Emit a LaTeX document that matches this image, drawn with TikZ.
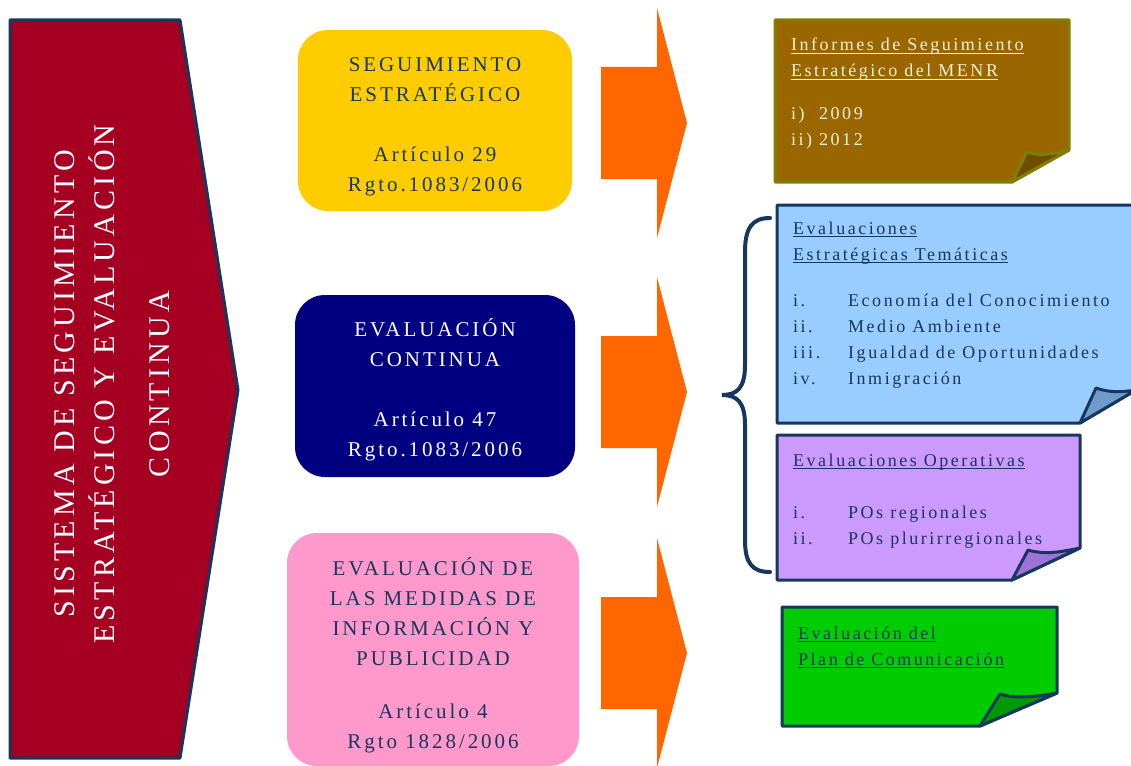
\documentclass[tikz,border=0pt]{standalone}
\usepackage{fontspec}
\setmainfont[LetterSpace=14]{Liberation Serif}
\usetikzlibrary{positioning}
\newsavebox\ulbox
\newcommand\uln[1]{\sbox\ulbox{#1}\rlap{\rule[-3pt]{\wd\ulbox}{1.5pt}}\usebox\ulbox}
\definecolor{crimson}{HTML}{A50021}
\definecolor{inkblue}{HTML}{17375E}
\definecolor{gold}{HTML}{FFCC00}
\definecolor{navy}{HTML}{000080}
\definecolor{rose}{HTML}{FF99CC}
\definecolor{flame}{HTML}{FF6600}
\definecolor{bark}{HTML}{996600}
\definecolor{barkdark}{HTML}{704C00}
\definecolor{olive}{HTML}{7F7F00}
\definecolor{cream}{HTML}{F5F0DC}
\definecolor{sky}{HTML}{99CCFF}
\definecolor{skydark}{HTML}{6F9CCB}
\definecolor{lilac}{HTML}{CC99FF}
\definecolor{lilacdark}{HTML}{9C73D6}
\definecolor{leaf}{HTML}{00CC00}
\definecolor{leafdark}{HTML}{009900}
\tikzset{x=1pt, y=-1pt,
  banner/.style={fill=crimson, draw=inkblue, line width=3pt, line join=round},
  phase/.style={rounded corners=30pt, align=center, inner sep=0pt,
    font=\fontsize{21}{30}\selectfont},
  push/.style={fill=flame},
  note/.style={draw=inkblue, line width=3pt, line join=round},
  notetext/.style={anchor=base west, align=left, inner sep=0pt, text=inkblue,
    font=\fontsize{18}{26}\selectfont}}

\begin{document}
\begin{tikzpicture}
    \useasboundingbox (0,0) rectangle (1131,765);
    % big banner
    \draw[banner] (10,20) -- (180,20) -- (238,390) -- (180,758) -- (10,758) -- cycle;
    \node[rotate=90, align=center, text=white, inner sep=0pt,
          font=\fontsize{30}{40}\selectfont] (title) at (112,384)
          {SISTEMA DE SEGUIMIENTO\\ESTRATÉGICO Y EVALUACIÓN\\[15pt]CONTINUA};

    % phases
    \node[phase, fill=gold, text=inkblue, minimum width=274pt, minimum height=181pt]
          (seg) at (435,120.5)
          {\rule{0pt}{26pt}SEGUIMIENTO\\ESTRATÉGICO\\[30pt]Artículo 29\\Rgto.1083/2006};
    \node[phase, fill=navy, text=white, minimum width=280pt, minimum height=182pt]
          (cont) at (435,386)
          {\rule{0pt}{26pt}EVALUACIÓN\\CONTINUA\\[30pt]Artículo 47\\Rgto.1083/2006};
    \node[phase, fill=rose, text=inkblue, minimum width=292pt, minimum height=233pt]
          (info) at (433,649.5)
          {\rule{0pt}{30pt}EVALUACIÓN DE\\LAS MEDIDAS DE\\INFORMACIÓN Y\\PUBLICIDAD\\[23pt]Artículo 4\\Rgto 1828/2006};

    % arrows
    \foreach \y in {123,392,653}
        \fill[push] (601,\y-56) -- (657,\y-56) -- (657,\y-115) -- (687,\y)
                    -- (657,\y+115) -- (657,\y+56) -- (601,\y+56) -- cycle;

    % notes (text nodes sit on their last baseline)
    \draw[note, draw=olive, fill=bark] (775,20) -- (1069,20) -- (1069,150) -- (1012,182) -- (775,182) -- cycle;
    \draw[note, draw=olive, fill=barkdark] (1012,182) -- (1027,152) .. controls (1042,157) and (1055,153) .. (1069,150) -- cycle;
    \node[notetext, text=cream] (menr) at (791,145)
          {\uln{Informes de Seguimiento}\\\uln{Estratégico del MENR}\\[16pt]%
           \makebox[28pt][l]{i)}2009\\\makebox[28pt][l]{ii)}2012};

    \draw[note, fill=sky] (777,205) -- (1136,205) -- (1136,390) -- (1080,423) -- (777,423) -- cycle;
    \draw[note, fill=skydark] (1080,423) -- (1096,388) .. controls (1110,393) and (1122,392) .. (1136,390) -- cycle;
    \node[notetext] (tema) at (793,384)
          {\uln{Evaluaciones}\\\uln{Estratégicas Temáticas}\\[20pt]%
           \makebox[55pt][l]{i.}Economía del Conocimiento\\
           \makebox[55pt][l]{ii.}Medio Ambiente\\
           \makebox[55pt][l]{iii.}Igualdad de Oportunidades\\
           \makebox[55pt][l]{iv.}Inmigración};

    \draw[note, fill=lilac] (777,435) -- (1080,435) -- (1080,548) -- (1012,580) -- (777,580) -- cycle;
    \draw[note, fill=lilacdark] (1012,580) -- (1028,550) .. controls (1045,555) and (1060,552) .. (1080,548) -- cycle;
    \node[notetext] (oper) at (793,544)
          {\uln{Evaluaciones Operativas}\\[26pt]%
           \makebox[55pt][l]{i.}POs regionales\\
           \makebox[55pt][l]{ii.}POs plurirregionales};

    \draw[note, fill=leaf] (782,607) -- (1057,607) -- (1057,693) -- (980,726) -- (782,726) -- cycle;
    \draw[note, fill=leafdark] (980,726) -- (1000,694) .. controls (1016,699) and (1035,697) .. (1057,693) -- cycle;
    \node[notetext] (plan) at (798,665)
          {\uln{Evaluación del}\\\uln{Plan de Comunicación}};

    % brace
    \draw[inkblue, line width=4pt, line cap=round]
        (770,218) .. controls (752,218) and (745,228) .. (745,252) -- (745,365)
        .. controls (745,388) and (737,395) .. (722,395)
        .. controls (737,395) and (745,402) .. (745,425) -- (745,540)
        .. controls (745,563) and (752,572) .. (770,572);
\end{tikzpicture}
\end{document}
